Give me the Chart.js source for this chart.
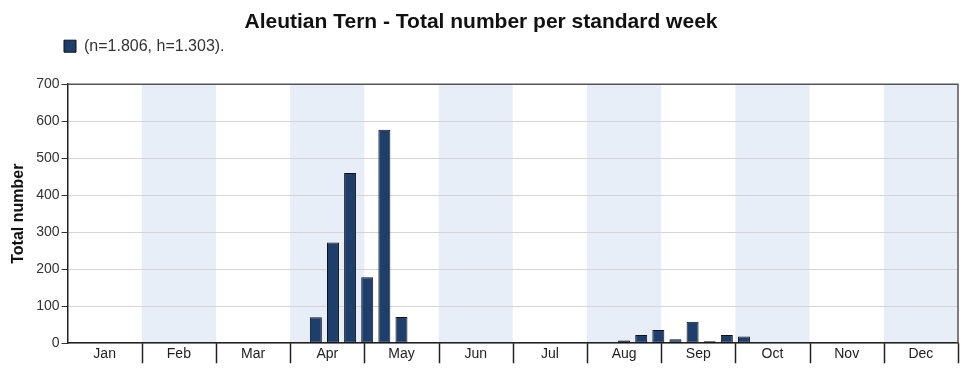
<!DOCTYPE html>
<html>
<head>
<meta charset="utf-8">
<script src="https://cdn.jsdelivr.net/npm/chart.js@4.4.1/dist/chart.umd.min.js"></script>
<style>
  html, body { margin: 0; padding: 0; background: #fff; }
  #wrap { width: 975px; height: 376px; }
</style>
</head>
<body>
<div id="wrap"><canvas id="c"></canvas></div>
<script>
const months = ['Jan', 'Feb', 'Mar', 'Apr', 'May', 'Jun', 'Jul', 'Aug', 'Sep', 'Oct', 'Nov', 'Dec'];
const weeks = 52;
// total number per standard week (1..52)
const weekTotals = [
  0, 0, 0, 0, 0, 0, 0, 0, 0, 0, 0, 0, 0,
  0, 70, 272, 460, 178, 577, 71, 0, 0, 0, 0, 0, 0,
  0, 0, 0, 0, 0, 0, 7, 22, 36, 11, 58, 4, 22,
  18, 0, 0, 0, 0, 0, 0, 0, 0, 0, 0, 0, 0
];
const yTicks = [0, 100, 200, 300, 400, 500, 600, 700];
const legendText = '(n=1.806, h=1.303).';

const FONT = "'Liberation Sans', Arial, sans-serif";
Chart.defaults.font.family = FONT;
Chart.defaults.color = '#333';

const monthBands = {
  id: 'monthBands',
  beforeDraw(chart) {
    const x = chart.scales.x, area = chart.chartArea, ctx = chart.ctx;
    ctx.save();
    ctx.fillStyle = '#e8eef8';
    for (let m = 1; m < 12; m += 2) {
      const l = x.getPixelForValue(m * weeks / 12);
      const r = x.getPixelForValue((m + 1) * weeks / 12);
      ctx.fillRect(l, area.top, r - l, area.bottom - area.top);
    }
    ctx.restore();
  },
  afterDraw(chart) {
    const a = chart.chartArea, ctx = chart.ctx, x = chart.scales.x;
    ctx.save();
    ctx.strokeStyle = '#555';
    ctx.lineWidth = 1.5;
    ctx.beginPath();
    ctx.moveTo(a.left, a.top);
    ctx.lineTo(a.right, a.top);
    ctx.lineTo(a.right, a.bottom);
    ctx.stroke();
    // month separators below the axis
    ctx.strokeStyle = '#222';
    ctx.beginPath();
    for (let m = 1; m <= 12; m++) {
      const px = Math.round(x.getPixelForValue(m * weeks / 12)) + 0.5;
      ctx.moveTo(px, a.bottom);
      ctx.lineTo(px, a.bottom + 20);
    }
    ctx.stroke();
    ctx.restore();
  },
  afterLayout(chart) {
    // legend sits close under the title, over the plot's left edge
    chart.legend.left = 61;
    chart.legend.top -= 20;
  }
};

new Chart(document.getElementById('c'), {
  type: 'bar',
  data: {
    datasets: [{
      label: legendText,
      data: weekTotals.map((v, i) => ({ x: i + 0.5, y: v === 0 ? null : v })),
      backgroundColor: '#1e3f6b',
      borderColor: '#111',
      borderWidth: 1,
      borderSkipped: false,
      minBarLength: 2,
      barPercentage: 0.7,
      categoryPercentage: 1
    }]
  },
  options: {
    responsive: true,
    maintainAspectRatio: false,
    animation: false,
    layout: { padding: { left: 4, right: 17, top: 0, bottom: 10 } },
    plugins: {
      title: {
        display: true,
        text: 'Aleutian Tern - Total number per standard week',
        color: '#111',
        font: { size: 21, weight: 'bold' },
        padding: { top: 10, bottom: 20 }
      },
      legend: {
        align: 'start',
        labels: {
          color: '#333',
          font: { size: 16 },
          boxWidth: 12,
          boxHeight: 12,
          padding: 3
        }
      },
      tooltip: { enabled: false }
    },
    scales: {
      x: {
        type: 'linear',
        min: 0,
        max: weeks,
        offset: false,
        afterBuildTicks(axis) {
          axis.ticks = months.map((m, i) => ({ value: (i + 0.5) * weeks / 12 }));
        },
        ticks: {
          autoSkip: false,
          maxRotation: 0,
          padding: 3,
          color: '#222',
          font: { size: 14 },
          callback: (v, i) => months[i]
        },
        grid: { offset: false, drawOnChartArea: false, drawTicks: false },
        border: { color: '#222', width: 1.5 }
      },
      y: {
        min: 0,
        max: 700,
        afterBuildTicks(axis) { axis.ticks = yTicks.map(v => ({ value: v })); },
        ticks: { color: '#333', font: { size: 14 }, padding: 2 },
        grid: { color: '#d4d4d4', tickColor: '#333', tickLength: 6 },
        border: { color: '#222', width: 1.5 },
        title: {
          display: true,
          text: 'Total number',
          color: '#111',
          font: { size: 16, weight: 'bold' },
          padding: { top: 5, bottom: 6 }
        }
      }
    }
  },
  plugins: [monthBands]
});
</script>
</body>
</html>
